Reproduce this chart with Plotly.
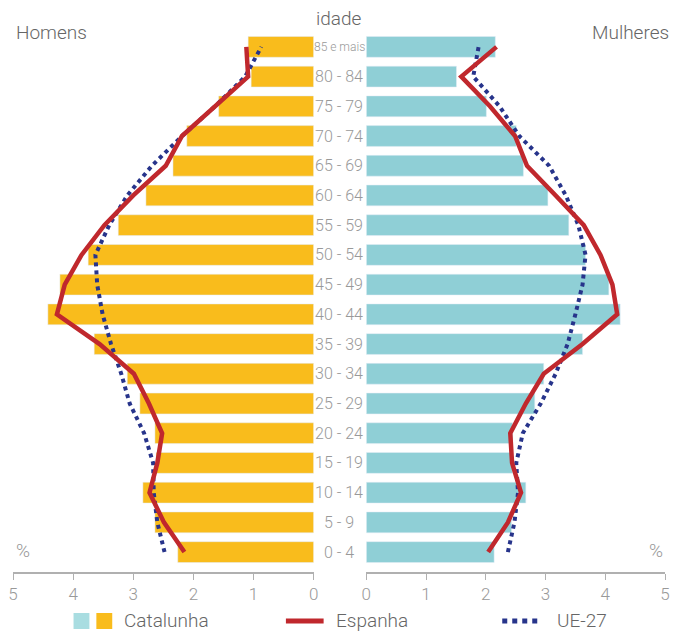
import plotly.graph_objects as go

ages = ["0 - 4", "5 - 9", "10 - 14", "15 - 19", "20 - 24", "25 - 29", "30 - 34",
        "35 - 39", "40 - 44", "45 - 49", "50 - 54", "55 - 59", "60 - 64",
        "65 - 69", "70 - 74", "75 - 79", "80 - 84", "85 e mais"]

# Catalunha (bars)
cat_men = [2.26, 2.64, 2.84, 2.62, 2.64, 2.89, 3.10, 3.65, 4.42, 4.22, 3.75, 3.25,
           2.79, 2.34, 2.11, 1.58, 1.04, 1.09]
cat_women = [2.14, 2.43, 2.67, 2.45, 2.45, 2.82, 2.97, 3.62, 4.25, 4.06, 3.67, 3.39,
             3.04, 2.63, 2.51, 2.01, 1.51, 2.16]
# Espanha (red line)
esp_men = [2.15, 2.49, 2.73, 2.60, 2.52, 2.74, 2.99, 3.56, 4.27, 4.14, 3.86, 3.48,
           3.00, 2.46, 2.19, 1.63, 1.09, 1.12]
esp_women = [2.04, 2.37, 2.59, 2.44, 2.41, 2.67, 2.97, 3.62, 4.20, 4.12, 3.92, 3.64,
             3.17, 2.69, 2.49, 2.07, 1.59, 2.18]
# UE-27 (dotted line)
ue_men = [2.48, 2.60, 2.66, 2.67, 2.82, 3.06, 3.20, 3.37, 3.51, 3.60, 3.63, 3.40,
          3.10, 2.69, 2.19, 1.64, 1.14, 0.87]
ue_women = [2.37, 2.48, 2.54, 2.51, 2.62, 2.92, 3.17, 3.37, 3.50, 3.62, 3.67, 3.55,
            3.34, 3.06, 2.56, 2.23, 1.79, 1.88]

x_ticks = [0, 1, 2, 3, 4, 5]
legend_labels = ["Catalunha", "Espanha", "UE-27"]

YELLOW = "#F9BC1C"
TEAL = "#8FCFD6"
RED = "#C0282D"
NAVY = "#27348B"
GRAY = "#999999"
TXT = "#666666"
FONT = "Roboto"
WT = 300

W, H = 676, 632
ML, MR, MT, MB = 13, 6, 32, 60
PW, PH = W - ML - MR, H - MT - MB


def px(x):
    return (x - ML) / PW


def py(y):
    return (H - MB - y) / PH


fig = go.Figure()
fig.add_trace(go.Bar(y=ages, x=cat_men, orientation="h", marker_color=YELLOW,
                     xaxis="x", yaxis="y", width=0.7, showlegend=False))
fig.add_trace(go.Bar(y=ages, x=cat_women, orientation="h", marker_color=TEAL,
                     xaxis="x2", yaxis="y", width=0.7, showlegend=False))
fig.add_trace(go.Scatter(y=ages, x=ue_men, mode="lines", xaxis="x", yaxis="y",
                         line=dict(color=NAVY, width=4, dash="dot"), showlegend=False))
fig.add_trace(go.Scatter(y=ages, x=ue_women, mode="lines", xaxis="x2", yaxis="y",
                         line=dict(color=NAVY, width=4, dash="dot"), showlegend=False))
fig.add_trace(go.Scatter(y=ages, x=esp_men, mode="lines", xaxis="x", yaxis="y",
                         line=dict(color=RED, width=4.5), showlegend=False))
fig.add_trace(go.Scatter(y=ages, x=esp_women, mode="lines", xaxis="x2", yaxis="y",
                         line=dict(color=RED, width=4.5), showlegend=False))

axis_common = dict(tickvals=x_ticks, ticktext=[str(t) for t in x_ticks],
                   showgrid=False, zeroline=False, showline=True,
                   linecolor="#b0b0b0", linewidth=2, ticks="outside",
                   ticklen=6, tickcolor="#b0b0b0", tickwidth=1,
                   tickfont=dict(family=FONT, size=17, color=GRAY, weight=WT),
                   fixedrange=True)

annotations = []
for a in ages:
    small = a == "85 e mais"
    annotations.append(dict(x=px(342), y=a, xref="paper", yref="y", text=a,
                            showarrow=False, xanchor="center", yanchor="middle",
                            font=dict(family=FONT, size=12 if small else 16,
                                      color=GRAY, weight=WT)))

annotations += [
    dict(x=px(342), y=py(18), xref="paper", yref="paper", text="idade", showarrow=False,
         xanchor="center", yanchor="middle",
         font=dict(family=FONT, size=19, color=TXT, weight=WT)),
    dict(x=px(14), y=py(32), xref="paper", yref="paper", text="Homens", showarrow=False,
         xanchor="left", yanchor="middle",
         font=dict(family=FONT, size=19, color=TXT, weight=WT)),
    dict(x=px(676), y=py(32), xref="paper", yref="paper", text="Mulheres", showarrow=False,
         xanchor="right", yanchor="middle",
         font=dict(family=FONT, size=19, color=TXT, weight=WT)),
    dict(x=px(14), y=py(550), xref="paper", yref="paper", text="%", showarrow=False,
         xanchor="left", yanchor="middle",
         font=dict(family=FONT, size=19, color=GRAY, weight=WT)),
    dict(x=px(670), y=py(550), xref="paper", yref="paper", text="%", showarrow=False,
         xanchor="right", yanchor="middle",
         font=dict(family=FONT, size=19, color=GRAY, weight=WT)),
]

# manual legend
LY = 621
leg_text_x = [124, 337, 560]
for lbl, lx in zip(legend_labels, leg_text_x):
    annotations.append(dict(x=px(lx), y=py(LY - 1), xref="paper", yref="paper", text=lbl,
                            showarrow=False, xanchor="left", yanchor="middle", borderpad=0,
                            font=dict(family=FONT, size=19, color=TXT, weight=WT)))

shapes = [
    dict(type="rect", xref="paper", yref="paper", x0=px(74), x1=px(90), y0=py(629), y1=py(613),
         fillcolor="#a9dde1", line=dict(width=0)),
    dict(type="rect", xref="paper", yref="paper", x0=px(97), x1=px(113), y0=py(629), y1=py(613),
         fillcolor=YELLOW, line=dict(width=0)),
    dict(type="line", xref="paper", yref="paper", x0=px(288), x1=px(326), y0=py(LY), y1=py(LY),
         line=dict(color=RED, width=5)),
    dict(type="line", xref="paper", yref="paper", x0=px(506), x1=px(546), y0=py(LY), y1=py(LY),
         line=dict(color=NAVY, width=5, dash="dot")),
]

fig.update_layout(
    width=W, height=H,
    margin=dict(l=ML, r=MR, t=MT, b=MB),
    paper_bgcolor="white", plot_bgcolor="white",
    bargap=0.3,
    xaxis=dict(domain=[0, px(316)], range=[5, 0], anchor="y", **axis_common),
    xaxis2=dict(domain=[px(369), 1], range=[0, 5], anchor="y", **axis_common),
    yaxis=dict(type="category", categoryorder="array", categoryarray=ages,
               range=[-0.67, 17.5], showticklabels=False, showgrid=False,
               zeroline=False, showline=False, ticks="", fixedrange=True),
    annotations=annotations,
    shapes=shapes,
    showlegend=False,
)

fig.write_html("out.html", config={"displayModeBar": False},
               post_script="document.body.style.margin='0';document.body.style.overflow='hidden';")
